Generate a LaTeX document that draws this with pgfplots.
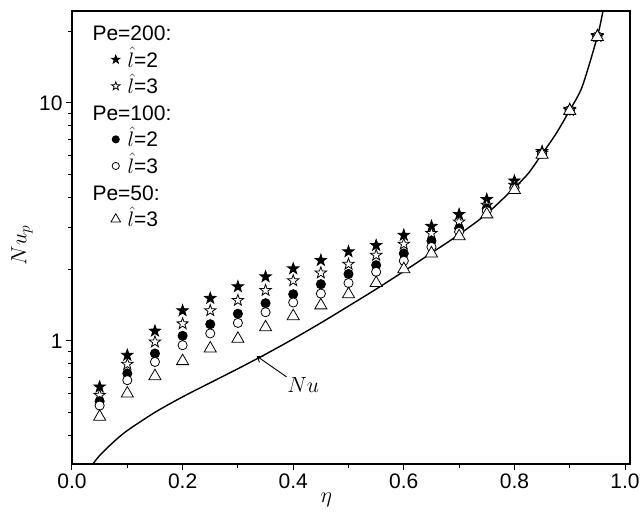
\documentclass[border=0pt]{standalone}
\usepackage{fix-cm}
\usepackage{fontspec}
\setmainfont{Liberation Sans}
\usepackage{pgfplots}
\pgfplotsset{compat=1.18}
\usetikzlibrary{arrows.meta}

% five-pointed star mark, filled with the current fill colour
\pgfdeclareplotmark{pstar}{%
  \pgfpathmoveto{\pgfpointpolar{90}{\pgfplotmarksize}}%
  \pgfpathlineto{\pgfpointpolar{126}{0.4\pgfplotmarksize}}%
  \pgfpathlineto{\pgfpointpolar{162}{\pgfplotmarksize}}%
  \pgfpathlineto{\pgfpointpolar{198}{0.4\pgfplotmarksize}}%
  \pgfpathlineto{\pgfpointpolar{234}{\pgfplotmarksize}}%
  \pgfpathlineto{\pgfpointpolar{270}{0.4\pgfplotmarksize}}%
  \pgfpathlineto{\pgfpointpolar{306}{\pgfplotmarksize}}%
  \pgfpathlineto{\pgfpointpolar{342}{0.4\pgfplotmarksize}}%
  \pgfpathlineto{\pgfpointpolar{18}{\pgfplotmarksize}}%
  \pgfpathlineto{\pgfpointpolar{54}{0.4\pgfplotmarksize}}%
  \pgfpathclose
  \pgfusepathqfillstroke}

% legend image: a single mark
\pgfplotsset{
  legmark/.style={legend image code/.code={%
      \draw[##1,mark size=#1] plot coordinates {(0pt,0pt)};}},
}

% eta, Nu_p for the five cases
\pgfplotstableread{
eta   s200l2 s200l3 c100l2 c100l3 t50l3
0.05  0.641  0.591  0.558  0.535  0.480
0.10  0.871  0.798  0.730  0.684  0.601
0.15  1.10   0.99   0.885  0.816  0.711
0.20  1.34   1.18   1.05   0.959  0.822
0.25  1.51   1.34   1.175  1.075  0.929
0.30  1.69   1.48   1.30   1.19   1.02
0.35  1.86   1.63   1.44   1.32   1.14
0.40  2.01   1.79   1.57   1.45   1.27
0.45  2.18   1.93   1.73   1.58   1.41
0.50  2.37   2.10   1.91   1.75   1.57
0.55  2.52   2.29   2.08   1.95   1.75
0.60  2.78   2.55   2.33   2.17   2.00
0.65  3.03   2.83   2.63   2.48   2.33
0.70  3.40   3.16   2.97   2.87   2.75
0.75  3.93   3.72   3.60   3.51   3.40
0.80  4.70   4.51   4.41   4.37   4.30
0.85  6.25   6.15   6.12   6.10   6.05
0.90  9.40   9.30   9.30   9.30   9.25
0.95  19.2   19.0   19.0   19.0   18.9
}\points

% Nu(eta) curve
\pgfplotstableread{
eta    Nu
0.036  0.300
0.05   0.330
0.075  0.376
0.10   0.420
0.15   0.501
0.20   0.582
0.25   0.667
0.30   0.764
0.35   0.879
0.40   1.019
0.45   1.19
0.50   1.40
0.55   1.65
0.60   1.96
0.65   2.34
0.70   2.80
0.75   3.42
0.80   4.40
0.825  5.05
0.85   6.10
0.875  7.40
0.90   9.30
0.92   11.3
0.935  14.4
0.95   19.0
0.955  21.2
0.962  25.5
}\nucurve

\begin{document}
\begin{tikzpicture}
\begin{axis}[
  scale only axis, width=558pt, height=453pt,
  ymode=log,
  xmin=0, xmax=1.009, ymin=0.304, ymax=24.3,
  axis line style={line width=1.2pt},
  tick align=outside, xtick pos=bottom, ytick pos=left,
  major tick length=6pt, minor tick length=4pt,
  tick style={line width=1pt, black},
  xtick={0,0.2,0.4,0.6,0.8,1},
  xticklabels={0.0,0.2,0.4,0.6,0.8,1.0},
  minor xtick={0.1,0.3,0.5,0.7,0.9},
  ytick={1,10}, yticklabels={1,10},
  minor ytick={0.4,0.5,0.6,0.7,0.8,0.9,2,3,4,5,6,7,8,9,20},
  /pgf/number format/assume math mode=true,
  tick label style={font=\fontsize{21}{25}\selectfont},
  xlabel={$\eta$}, ylabel={$Nu_p$},
  label style={font=\fontsize{22}{26}\selectfont},
  xlabel style={at={(axis description cs:0.456,-0.0795)}, anchor=center},
  ylabel style={at={(axis description cs:-0.0896,0.483)}, anchor=center},
  legend cell align=left,
  legend style={at={(axis description cs:0.0699,0.978)}, anchor=north west,
    draw=none, fill=none, inner sep=0pt, outer sep=0pt,
    row sep=2.6pt, column sep=5pt,
    font=\fontsize{21}{25}\selectfont,
    nodes={inner sep=2pt, text height=17.5pt, text depth=2.5pt}},
]
\addlegendimage{empty legend}
\addlegendentry{\hspace*{-35pt}Pe=200:}
\addplot[only marks, mark=pstar, mark size=6pt, line width=0.8pt,
  mark options={draw=black, fill=black}, legmark=4.4pt]
  table[x=eta, y=s200l2] {\points};
\addlegendentry{$\hat{l}$=2}
\addplot[only marks, mark=pstar, mark size=6pt, line width=0.8pt,
  mark options={draw=black, fill=white}, legmark=4.4pt]
  table[x=eta, y=s200l3] {\points};
\addlegendentry{$\hat{l}$=3}
\addlegendimage{empty legend}
\addlegendentry{\hspace*{-35pt}Pe=100:}
\addplot[only marks, mark=*, mark size=4.6pt, line width=0.8pt,
  mark options={draw=black, fill=black}, legmark=3.6pt]
  table[x=eta, y=c100l2] {\points};
\addlegendentry{$\hat{l}$=2}
\addplot[only marks, mark=*, mark size=4.6pt, line width=0.8pt,
  mark options={draw=black, fill=white}, legmark=3.6pt]
  table[x=eta, y=c100l3] {\points};
\addlegendentry{$\hat{l}$=3}
\addlegendimage{empty legend}
\addlegendentry{\hspace*{-35pt}Pe=50:}
\addplot[only marks, mark=triangle*, mark size=7pt, line width=0.8pt,
  mark options={draw=black, fill=white}, legmark=5.5pt]
  table[x=eta, y=t50l3] {\points};
\addlegendentry{$\hat{l}$=3}

\addplot[forget plot, black, line width=1.4pt, smooth, no marks]
  table[x=eta, y=Nu] {\nucurve};

\draw[line width=0.9pt, -{Straight Barb[length=5pt, width=7pt]}]
  (axis cs:0.388,0.706) -- (axis cs:0.334,0.863);
\node[font=\fontsize{22}{26}\selectfont] at (axis cs:0.418,0.651) {$Nu$};

\coordinate (ll) at (rel axis cs:0,0);
\coordinate (ur) at (rel axis cs:1,1);
\end{axis}
\pgfresetboundingbox
\path[use as bounding box] ([shift={(-72pt,-50pt)}]ll) rectangle ([shift={(10pt,11pt)}]ur);
\end{tikzpicture}
\end{document}
